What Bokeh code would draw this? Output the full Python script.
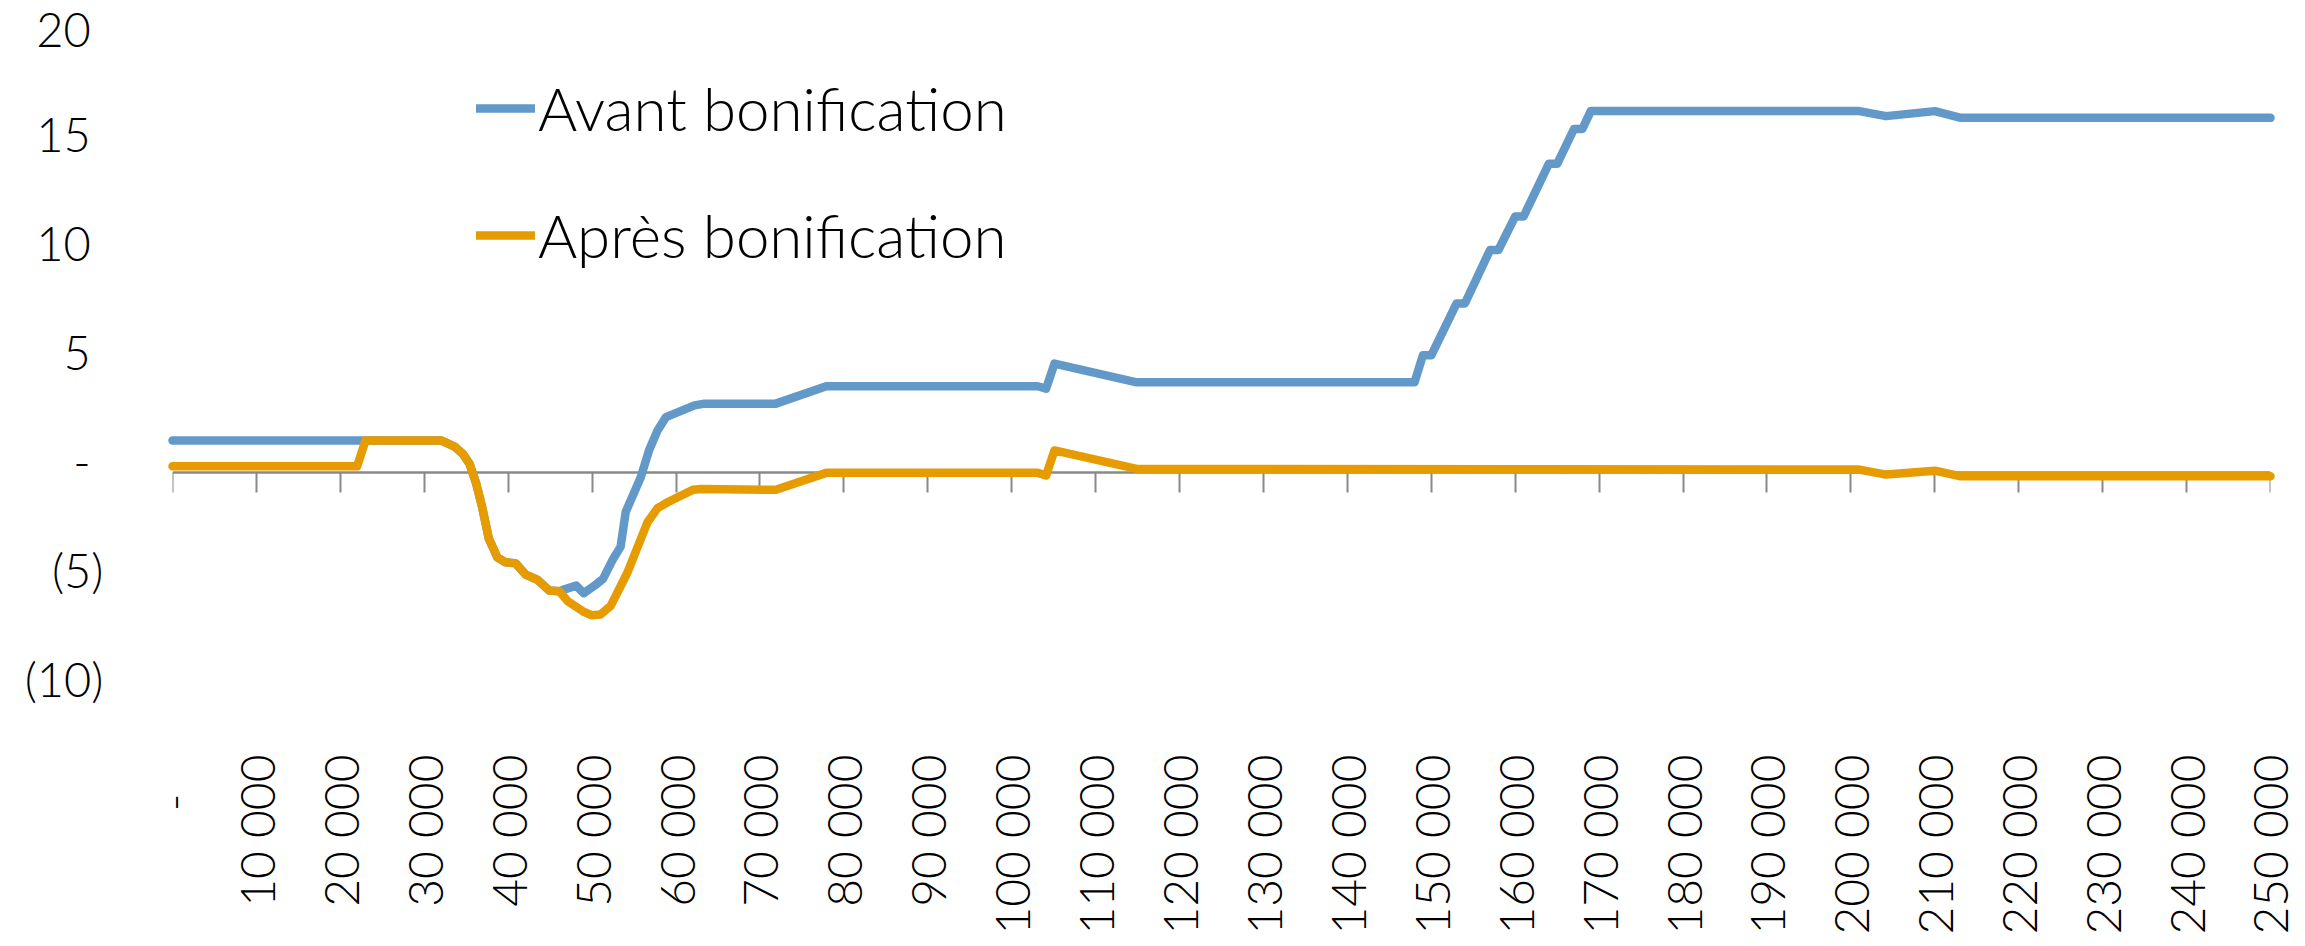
import math
from bokeh.plotting import figure
from bokeh.models import Range1d, LinearAxis, FixedTicker, Legend, LegendItem
from bokeh.embed import file_html
from bokeh.resources import INLINE

# ---------------- data ----------------
avant_x = [0, 22000, 23000, 32000, 33600, 34600, 35400, 36200, 36900, 37700,
           38700, 39700, 40900, 42100, 43500, 44900, 46100, 46900, 48100, 49000,
           50300, 51300, 52400, 53400, 54000, 55800, 56800, 57800, 58800, 62200,
           63400, 71900, 77900, 103100, 104100, 105100, 114900, 148000, 149000, 150000,
           153000, 154000, 157000, 158000, 160000, 161000, 164000, 165000, 167000, 168000,
           169000, 201000, 204200, 210000, 213100, 250000]
avant_y = [1.49, 1.49, 1.49, 1.49, 1.21, 0.87, 0.41, -0.51, -1.58, -3.03,
           -3.88, -4.11, -4.16, -4.68, -4.92, -5.41, -5.44, -5.33, -5.18, -5.53,
           -5.18, -4.87, -4.03, -3.39, -1.80, -0.20, 1.05, 1.95, 2.56, 3.10,
           3.18, 3.18, 3.98, 3.98, 3.87, 5.02, 4.16, 4.16, 5.40, 5.40,
           7.78, 7.78, 10.24, 10.24, 11.78, 11.78, 14.20, 14.20, 15.80, 15.80,
           16.62, 16.62, 16.39, 16.62, 16.31, 16.31]

apres_x = [0, 22000, 23000, 32000, 33600, 34600, 35400, 36200, 36900, 37700,
           38700, 39700, 40900, 42100, 43500, 44900, 46100, 47100, 48900, 49900,
           51000, 52200, 54200, 56600, 57800, 59000, 62000, 63000, 71900, 77900,
           103100, 104100, 105100, 114900, 201000, 204200, 210000, 213100, 250000]
apres_y = [0.30, 0.30, 1.49, 1.49, 1.21, 0.87, 0.41, -0.51, -1.58, -3.03,
           -3.88, -4.11, -4.16, -4.68, -4.92, -5.41, -5.44, -5.90, -6.36, -6.54,
           -6.51, -6.12, -4.59, -2.27, -1.62, -1.35, -0.78, -0.74, -0.78, 0.00,
           0.00, -0.12, 1.03, 0.18, 0.15, -0.08, 0.10, -0.16, -0.16]

series_names = ["Avant bonification", "Après bonification"]

x_ticks = [0, 10000, 20000, 30000, 40000, 50000, 60000, 70000, 80000, 90000,
           100000, 110000, 120000, 130000, 140000, 150000, 160000, 170000, 180000,
           190000, 200000, 210000, 220000, 230000, 240000, 250000]
x_tick_labels = ["-\u00a0\u00a0\u00a0", "10 000", "20 000", "30 000", "40 000", "50 000",
                 "60 000", "70 000", "80 000", "90 000", "100 000", "110 000",
                 "120 000", "130 000", "140 000", "150 000", "160 000", "170 000",
                 "180 000", "190 000", "200 000", "210 000", "220 000", "230 000",
                 "240 000", "250 000"]
y_ticks = [-10, -5, 0, 5, 10, 15, 20]
y_tick_labels = ["(10)", "(5)", "-\u00a0", "5\u00a0", "10\u00a0", "15\u00a0", "20\u00a0"]

# ---------------- style ----------------
FONT = "Lato Light"
BLUE = "#6399C8"
ORANGE = "#E69C00"
GREY = "#898989"
LABEL_SHIFT = 0.55  # tick labels sit slightly above their tick, as in the original

p = figure(frame_width=2098, frame_height=666,
           x_range=Range1d(0, 250000), y_range=Range1d(-10, 20.6),
           output_backend="svg", toolbar_location=None, y_axis_location=None,
           min_border_left=172, min_border_right=27, min_border_top=24,
           min_border_bottom=0)
p.extra_y_ranges = {"lab": Range1d(-10 - LABEL_SHIFT, 20.6 - LABEL_SHIFT)}
p.xgrid.visible = False
p.ygrid.visible = False
p.outline_line_color = None
p.background_fill_color = "white"
p.border_fill_color = "white"

# x labels (bottom)
xa = p.xaxis[0]
xa.ticker = FixedTicker(ticks=x_ticks)
xa.major_label_overrides = dict(zip(x_ticks, x_tick_labels))
xa.major_label_orientation = math.pi / 2
xa.major_tick_out = 0
xa.major_tick_in = 0
xa.minor_tick_out = 0
xa.minor_tick_in = 0
xa.axis_line_color = None
xa.major_label_standoff = 64
xa.major_label_text_font = FONT
xa.major_label_text_font_size = "48px"
xa.major_label_text_color = "black"

# horizontal axis line with ticks at y = 0
zero_axis = LinearAxis(fixed_location=0, ticker=FixedTicker(ticks=x_ticks),
                       major_label_overrides={t: "" for t in x_ticks},
                       major_label_text_font_size="0px",
                       major_tick_out=20, major_tick_in=0,
                       minor_tick_out=0, minor_tick_in=0,
                       axis_line_color=GREY, axis_line_width=2.5,
                       major_tick_line_color=GREY, major_tick_line_width=2)
p.add_layout(zero_axis, "below")

# y labels (left)
ya = LinearAxis(y_range_name="lab", ticker=FixedTicker(ticks=y_ticks),
                major_label_overrides=dict(zip(y_ticks, y_tick_labels)),
                axis_line_color=None, major_tick_out=0, major_tick_in=0,
                minor_tick_out=0, minor_tick_in=0, major_label_standoff=69,
                major_label_text_font=FONT, major_label_text_font_size="47px",
                major_label_text_color="black")
p.add_layout(ya, "left")

r1 = p.line(avant_x, avant_y, line_color=BLUE, line_width=8.5,
            line_join="round", line_cap="round", level="overlay")
r2 = p.line(apres_x, apres_y, line_color=ORANGE, line_width=8.5,
            line_join="round", line_cap="round", level="overlay")

legend = Legend(items=[LegendItem(label=series_names[0], renderers=[r1]),
                       LegendItem(label=series_names[1], renderers=[r2])],
                location=(304, 400), orientation="vertical",
                padding=0, margin=0, spacing=17,
                glyph_width=59, glyph_height=110, label_height=72,
                label_standoff=3, label_text_font=FONT,
                label_text_font_size="60px", label_text_color="black",
                border_line_color=None, background_fill_alpha=0)
p.add_layout(legend)

open("out.html", "w").write(file_html(p, INLINE))
